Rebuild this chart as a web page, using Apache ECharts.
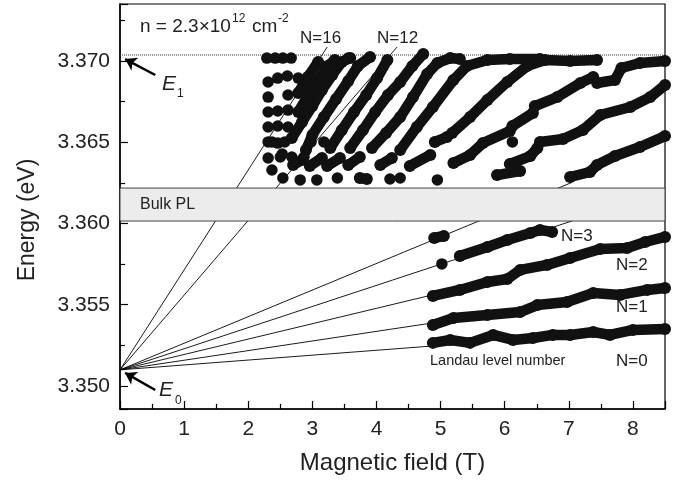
<!DOCTYPE html>
<html lang="en">
<head>
<meta charset="UTF-8">
<title>Landau levels</title>
<script src="https://cdn.jsdelivr.net/npm/echarts@6/dist/echarts.min.js"></script>
<style>
    html, body { margin: 0; background: #fff; }
    #container { width: 674px; height: 487px; }
</style>
</head>
<body>
<div id="container"></div>
<script>
    const FONT = '"Liberation Sans", Arial, Helvetica, sans-serif';
    const INK = '#111';

    const fieldRange = [0, 8.5];
    const energyRange = [3.34858, 3.37351];
    const E0 = 3.35099;
    const E1 = 3.37037;
    const bulkBand = [3.36015, 3.36218];

    // fan lines from E0: end field (T) and end energy (eV)
    const fanNames = ['N=0', 'N=1', 'N=2', 'N=3', 'N=4', 'N=12', 'N=16'];
    const fanEndB = [4.88, 4.88, 4.88, 8.50, 7.05, 4.32, 3.23];
    const fanEndE = [3.35246, 3.35388, 3.35561, 3.36204, 3.36253, 3.37086, 3.37086];

    // arrows to E1 / E0: [tail, head]
    const arrowE1 = [[0.55, 3.36914], [0.08, 3.37012]];
    const arrowE0 = [[0.55, 3.34975], [0.08, 3.35080]];

    // peak positions, grouped in segments of [B (T), E (eV)]
    const level0 = [[[4.88, 3.35265], [5.15, 3.35283], [5.46, 3.35265], [5.82, 3.35314], [6.13, 3.35283], [6.44, 3.35295],
        [6.75, 3.35314], [7.02, 3.35314], [7.38, 3.35332], [7.64, 3.35314], [8.00, 3.35345], [8.50, 3.35351]]];
    const level1 = [[[4.88, 3.35375], [5.20, 3.35418], [5.73, 3.35437], [6.24, 3.35455], [6.51, 3.35498], [6.97, 3.35517],
        [7.38, 3.35572], [7.80, 3.35560], [8.22, 3.35591], [8.50, 3.35603]]];
    const level2 = [[[4.88, 3.35554], [5.30, 3.35591], [5.73, 3.35640], [6.04, 3.35658], [6.24, 3.35714], [6.66, 3.35745],
        [7.02, 3.35788], [7.49, 3.35843], [7.91, 3.35849], [8.19, 3.35886], [8.50, 3.35917]]];
    const level3 = [[[5.02, 3.35751]],
        [[5.30, 3.35800], [5.73, 3.35855], [6.04, 3.35898], [6.40, 3.35942], [6.55, 3.35960], [6.74, 3.35948]]];
    const level4 = [[[4.90, 3.35911], [5.05, 3.35923]],
        [[7.02, 3.36286], [7.33, 3.36317], [7.44, 3.36360], [7.72, 3.36415], [8.11, 3.36471], [8.50, 3.36538]]];
    const level5 = [[[5.88, 3.36298], [6.24, 3.36323]],
        [[6.08, 3.36366], [6.40, 3.36415], [6.51, 3.36465]],
        [[6.55, 3.36502], [6.91, 3.36520], [7.22, 3.36575], [7.49, 3.36668], [7.96, 3.36717], [8.27, 3.36778], [8.50, 3.36852]]];
    const level6 = [[[4.95, 3.36268]],
        [[5.20, 3.36372], [5.46, 3.36422], [5.66, 3.36495], [6.08, 3.36569]],
        [[6.12, 3.36502]],
        [[6.12, 3.36600], [6.44, 3.36680]],
        [[6.47, 3.36723], [6.82, 3.36778], [7.18, 3.36865], [7.38, 3.36902]],
        [[7.44, 3.36865], [7.72, 3.36883], [7.82, 3.36957], [8.11, 3.36988], [8.50, 3.37000]]];
    const level7 = [[[4.21, 3.36274]], [[4.37, 3.36280]],
        [[4.52, 3.36354], [4.84, 3.36422]],
        [[4.91, 3.36502], [5.10, 3.36532]],
        [[5.18, 3.36557], [5.46, 3.36655], [5.73, 3.36760], [6.04, 3.36871], [6.35, 3.36969], [6.63, 3.37006], [7.02, 3.37000], [7.44, 3.37006]]];
    const level8 = [[[3.74, 3.36280], [3.85, 3.36274]],
        [[4.06, 3.36360], [4.24, 3.36403]],
        [[4.37, 3.36452], [4.63, 3.36594], [4.88, 3.36717], [5.20, 3.36883], [5.41, 3.36969], [5.73, 3.37006], [6.08, 3.37012], [6.55, 3.37012]]];
    const level9 = [[[3.39, 3.36280]],
        [[3.56, 3.36360], [3.74, 3.36409]],
        [[3.93, 3.36465], [4.15, 3.36557], [4.37, 3.36655], [4.57, 3.36778], [4.79, 3.36920], [4.95, 3.36988], [5.15, 3.37018], [5.30, 3.37012]]];
    const level10 = [[[3.07, 3.36268]],
        [[3.23, 3.36354], [3.43, 3.36403]],
        [[3.59, 3.36465], [3.79, 3.36575], [3.98, 3.36686], [4.18, 3.36791], [4.37, 3.36871], [4.56, 3.36969], [4.73, 3.37043]]];
    const level11 = [[[2.81, 3.36268]],
        [[2.96, 3.36354], [3.15, 3.36403]],
        [[3.28, 3.36465], [3.46, 3.36575], [3.65, 3.36686], [3.84, 3.36791], [4.01, 3.36895], [4.17, 3.37006]]];
    const level12 = [[[2.54, 3.36280]],
        [[2.70, 3.36360], [2.84, 3.36391]],
        [[2.90, 3.36452], [3.00, 3.36545], [3.18, 3.36655], [3.37, 3.36766], [3.56, 3.36877], [3.71, 3.36969], [3.90, 3.37025]]];
    const level13 = [[[2.37, 3.36329]], [[2.53, 3.36428]],
        [[2.68, 3.36526], [2.84, 3.36625], [3.00, 3.36723], [3.15, 3.36822], [3.31, 3.36914], [3.46, 3.36994], [3.59, 3.37018]]];
    const level14 = [[[2.31, 3.36403]], [[2.46, 3.36495]], [[2.62, 3.36594]],
        [[2.78, 3.36686], [2.93, 3.36785], [3.09, 3.36883], [3.24, 3.36969], [3.35, 3.37006]]];
    const level15 = [[[2.31, 3.36502]], [[2.46, 3.36600]], [[2.62, 3.36698]],
        [[2.78, 3.36803], [2.93, 3.36902], [3.09, 3.36994]]];
    const level16 = [[[2.31, 3.36594]], [[2.46, 3.36692]], [[2.62, 3.36791]], [[2.78, 3.36895]]];
    const lowFieldDots = [[2.29, 3.37018], [2.42, 3.37018], [2.54, 3.37018], [2.67, 3.37018],
        [2.31, 3.36871], [2.31, 3.36778], [2.31, 3.36686], [2.46, 3.36895], [2.61, 3.36908], [2.93, 3.36895],
        [2.37, 3.36502], [2.57, 3.36502], [2.98, 3.36502], [3.18, 3.36502],
        [2.50, 3.36409], [2.68, 3.36409], [2.87, 3.36409], [3.56, 3.37018]];

    const traceLevels = [level0, level1, level2, level3, level4, level5, level6, level7, level8,
        level9, level10, level11, level12, level13, level14, level15, level16];

    const chart = echarts.init(document.getElementById('container'), null, {renderer: 'canvas'});

    const series = [];
    fanEndB.forEach((b, i) => {
        series.push({
            type: 'line', name: fanNames[i], z: 1, silent: true, showSymbol: false,
            data: [[0, E0], [b, fanEndE[i]]],
            lineStyle: {color: '#000', width: 0.9}
        });
    });
    series.push({
        type: 'line', z: 1, silent: true, showSymbol: false,
        data: [[fieldRange[0], E1], [fieldRange[1], E1]],
        lineStyle: {color: '#333', width: 1, type: 'dotted'}
    });
    // bulk PL band drawn over the fan lines
    series.push({
        type: 'custom', z: 2, silent: true,
        data: [[0]],
        renderItem: function (params, api) {
            const p1 = api.coord([fieldRange[0], bulkBand[1]]);
            const p2 = api.coord([fieldRange[1], bulkBand[0]]);
            return {
                type: 'rect',
                shape: {x: p1[0], y: p1[1], width: p2[0] - p1[0], height: p2[1] - p1[1]},
                style: {fill: '#ececec', stroke: '#444', lineWidth: 1}
            };
        }
    });
    const dots = lowFieldDots.slice();
    traceLevels.forEach(segs => segs.forEach(seg => {
        if (seg.length === 1) {
            dots.push(seg[0]);
        } else {
            series.push({
                type: 'line', z: 3, silent: true, data: seg,
                showSymbol: true, symbol: 'circle', symbolSize: 12,
                itemStyle: {color: INK, opacity: 1},
                lineStyle: {color: INK, width: 10.5, cap: 'round', join: 'round'}
            });
        }
    }));
    series.push({
        type: 'scatter', z: 3, silent: true, data: dots,
        symbolSize: 11.5, itemStyle: {color: INK, opacity: 1}
    });
    series.push({
        type: 'lines', coordinateSystem: 'cartesian2d', z: 5, silent: true,
        symbol: ['none', 'arrow'], symbolSize: 11,
        lineStyle: {color: '#000', width: 2.5, opacity: 1},
        data: [{coords: arrowE1}, {coords: arrowE0}]
    });

    function txt(x, y, text, size, extra) {
        return {
            type: 'text', x: x, y: y, z: 100, silent: true,
            style: Object.assign({
                text: text, fontSize: size, fontFamily: FONT, fill: '#222',
                align: 'left', verticalAlign: 'middle', textAlign: 'left', textVerticalAlign: 'middle'
            }, extra || {})
        };
    }

    const option = {
        animation: false,
        grid: {left: 120, right: 9, top: 4, bottom: 78, show: true, borderColor: '#000', borderWidth: 1.2,
            containLabel: false, outerBoundsMode: 'none'},
        xAxis: {
            type: 'value', min: fieldRange[0], max: fieldRange[1], interval: 1,
            axisLine: {onZero: false, lineStyle: {color: '#000', width: 1.5}},
            axisTick: {inside: true, length: 8, lineStyle: {color: '#000', width: 1.2}},
            minorTick: {show: true, splitNumber: 2, length: 5, lineStyle: {color: '#000', width: 1.2}},
            splitLine: {show: false},
            axisLabel: {
                fontSize: 21, fontFamily: FONT, color: '#222', margin: 10, showMaxLabel: false,
                formatter: v => (Math.abs(v - Math.round(v)) < 1e-9 ? String(Math.round(v)) : '')
            },
            name: 'Magnetic field (T)', nameLocation: 'middle', nameGap: 42,
            nameTextStyle: {fontSize: 24, fontFamily: FONT, color: '#222'}
        },
        yAxis: {
            type: 'value', min: energyRange[0], max: energyRange[1], splitNumber: 5,
            axisLine: {onZero: false, lineStyle: {color: '#000', width: 1.5}},
            axisTick: {inside: true, length: 8, lineStyle: {color: '#000', width: 1.2}},
            minorTick: {show: true, splitNumber: 2, length: 5, lineStyle: {color: '#000', width: 1.2}},
            splitLine: {show: false},
            axisLabel: {
                fontSize: 21, fontFamily: FONT, color: '#222', margin: 10,
                showMinLabel: false, showMaxLabel: false,
                formatter: v => {
                    const k = v / 0.005;
                    return Math.abs(k - Math.round(k)) < 1e-6 ? v.toFixed(3) : '';
                }
            }
        },
        graphic: [
            {
                type: 'text', x: 28, y: 220, rotation: Math.PI / 2, z: 100, silent: true,
                style: {
                    text: 'Energy (eV)', fontSize: 23, fontFamily: FONT, fill: '#222',
                    align: 'center', verticalAlign: 'middle', textAlign: 'center', textVerticalAlign: 'middle'
                }
            },
            txt(140, 27, 'n = 2.3×10', 19),
            txt(232, 19, '12', 12),
            txt(252, 27, 'cm', 19),
            txt(278, 19, '-2', 12),
            txt(300, 38, 'N=16', 17),
            txt(377, 38, 'N=12', 17),
            txt(162, 84, 'E', 21, {fontStyle: 'italic'}),
            txt(177, 94, '1', 12),
            txt(159, 390, 'E', 21, {fontStyle: 'italic'}),
            txt(175, 401, '0', 12),
            txt(140, 205, 'Bulk PL', 16),
            txt(561, 236, 'N=3', 17),
            txt(616, 265, 'N=2', 17),
            txt(616, 307, 'N=1', 17),
            txt(616, 361, 'N=0', 17),
            txt(430, 361, 'Landau level number', 14.5)
        ],
        series: series
    };
    chart.setOption(option);
</script>
</body>
</html>
